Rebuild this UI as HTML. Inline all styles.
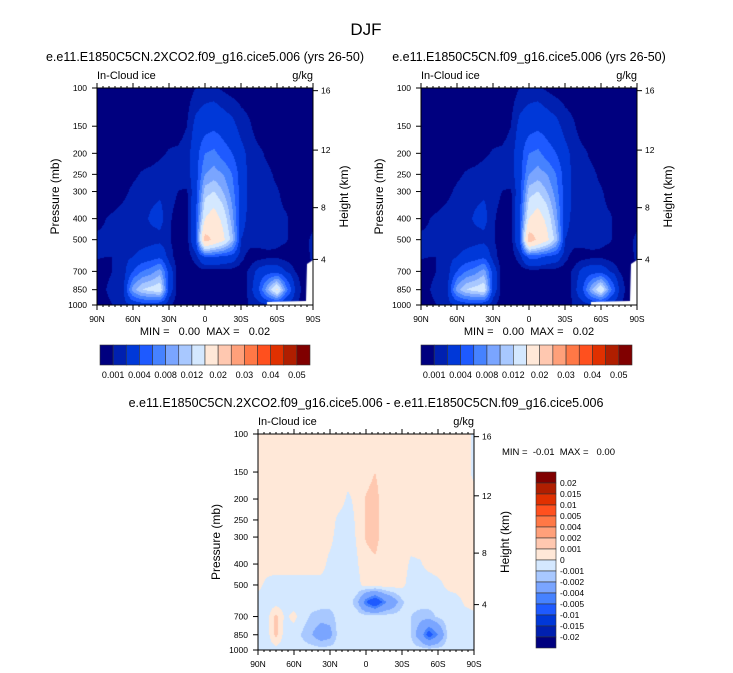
<!DOCTYPE html>
<html><head><meta charset="utf-8">
<style>
body{margin:0;background:#fff;}
#root{position:relative;width:733px;height:673px;overflow:hidden;font-family:"Liberation Sans",sans-serif;color:#000;}
canvas{position:absolute;}
svg{position:absolute;left:0;top:0;}
</style></head>
<body>
<div id="root">
<canvas id="c1" width="216" height="217" style="left:97px;top:88px"></canvas>
<canvas id="c2" width="216" height="217" style="left:421px;top:88px"></canvas>
<canvas id="c3" width="216" height="216" style="left:258px;top:434px"></canvas>
<svg id="ov" width="733" height="673"></svg>
</div>
<script>
const lats=[90,82.5,75,67.5,60,52.5,45,37.5,30,22.5,15,7.5,0,-7.5,-15,-22.5,-30,-37.5,-45,-52.5,-60,-67.5,-75,-82.5,-90];
const levels=[100,150,200,250,300,400,500,600,700,850,1000];
const iceA=[
[.5,.5,.5,.5,.5,.5,.5,.5,.5,.5,.5,1,1.3,1.2,.8,.5,.5,.5,.5,.5,.5,.5,.5,.5,.5],
[.5,.5,.5,.5,.5,.5,.5,.5,.5,.5,1,2.5,3,3.5,3,2.5,1.5,1.1,.5,.5,.5,.5,.5,.5,.5],
[.5,.5,.5,.5,.5,.5,.5,.8,1.1,1.2,1.5,3,6,6.5,5,4,2.5,1.5,1.2,.8,.5,.5,.5,.5,.5],
[.5,.5,.5,.5,.8,1.1,1.3,1.5,1.5,1.2,1.5,3,8,9,8,6,3,1.5,1.3,1.2,.8,.5,.5,.5,.5],
[.5,.5,.5,.8,1.2,1.4,1.6,1.8,1.5,1,.9,3,11,12,10,7,3,1.6,1.4,1.3,1.1,.7,.5,.5,.5],
[.7,1,1.2,1.4,1.5,1.6,2.2,2.5,1.2,.5,.5,4,15,17,14,9,2.5,1.6,1.4,1.3,1.2,1.1,.7,.5,.5],
[1.2,1.2,1.3,1.4,1.4,1.4,1.5,1.6,1.1,.5,.5,4,22,19,16,11,2,1.5,1.4,1.3,1.2,1.1,.6,.6,1.3],
[1.1,1,1,1.5,2,2.5,3,3.5,1.5,.5,.5,1.5,4,4,3.5,3,1.3,.5,.6,.8,.8,.6,.5,.5,1.3],
[.5,.5,1.2,1.5,4,6,7,9,3,.5,.5,.5,.5,.5,.5,.5,.5,1.2,2.5,3,3,2,1,.5,.5],
[.5,1,2,2,9,12,13,14,3,.5,.5,.5,.5,.5,.5,.5,.5,1.3,4,10,16,7,2,.5,.5],
[.5,.5,1.2,1.5,2,2.5,2.5,2,1.2,.5,.5,.5,.5,.5,.5,.5,.5,1.1,1.3,1.5,1.5,1.2,1.1,.5,.5]];
const iceB=[
[.5,.5,.5,.5,.5,.5,.5,.5,.5,.5,.5,1,1.3,1.2,.8,.5,.5,.5,.5,.5,.5,.5,.5,.5,.5],
[.5,.5,.5,.5,.5,.5,.5,.5,.5,.5,1,2.5,3,3.5,3,2.5,1.5,1.1,.5,.5,.5,.5,.5,.5,.5],
[.5,.5,.5,.5,.5,.5,.5,.8,1.1,1.2,1.5,3,6,6.5,5,4,2.5,1.5,1.2,.8,.5,.5,.5,.5,.5],
[.5,.5,.5,.5,.8,1.1,1.3,1.5,1.5,1.2,1.5,3,8,9,8,6,3,1.5,1.3,1.2,.8,.5,.5,.5,.5],
[.5,.5,.5,.8,1.2,1.4,1.6,1.8,1.5,1,.9,3,11,12,10,7,3,1.6,1.4,1.3,1.1,.7,.5,.5,.5],
[.7,1,1.2,1.4,1.5,1.6,2.2,2.5,1.2,.5,.5,4,15,17,14,9,2.5,1.6,1.4,1.3,1.2,1.1,.7,.5,.5],
[1.2,1.2,1.3,1.4,1.4,1.4,1.5,1.6,1.1,.5,.5,4,23,19,16,11,2,1.5,1.4,1.3,1.2,1.1,.6,.6,1.3],
[1.1,1,1,1.5,2,2.5,3,3.5,1.5,.5,.5,1.5,4.5,4.5,3.5,3,1.3,.5,.6,.8,.8,.6,.5,.5,1.3],
[.5,.5,1.2,1.5,4,6,7,9,3,.5,.5,.5,.5,.5,.5,.5,.5,1.2,2.5,3,3,2,1,.5,.5],
[.5,1,2,2,9,12,13,14,3,.5,.5,.5,.5,.5,.5,.5,.5,1.3,4,10,15,7,2,.5,.5],
[.5,.5,1.2,1.5,2,2.5,2.5,2,1.2,.5,.5,.5,.5,.5,.5,.5,.5,1.1,1.3,1.5,1.5,1.2,1.1,.5,.5]];
const iceDiff=[
[.5,.5,.5,.5,.5,.5,.5,.5,.5,.5,.5,.5,.5,.5,.5,.5,.5,.5,.5,.5,.5,.5,.5,.5,-.3],
[.5,.5,.5,.5,.5,.5,.5,.5,.5,.5,.5,.5,.6,1.0,.5,.5,.5,.5,.5,.5,.5,.5,.5,.5,-.3],
[.5,.5,.5,.5,.5,.5,.5,.5,.5,.5,-.2,.3,1.1,1.4,.5,.5,.5,.5,.5,.5,.5,.5,.5,.5,.5],
[.5,.5,.5,.5,.5,.5,.5,.5,.5,-.3,-.5,.2,1.1,1.4,.5,.5,.5,.5,.5,.5,.5,.5,.5,.5,.5],
[.5,.5,.5,.5,.5,.5,.5,.5,.3,-.5,-.5,.1,1.1,1.4,.5,.5,.5,.5,.5,.5,.5,.5,.5,.5,.5],
[.5,.5,.5,.5,.5,.5,.5,.4,-.3,-.5,-.5,-.1,.6,.8,.5,.5,.5,-.2,-.1,.3,.5,.5,.5,.5,.5],
[.3,-.3,-.5,-.5,-.5,-.5,-.5,-.4,-.5,-.5,-.5,-.3,.4,.5,.5,.5,.3,-.5,-.5,-.5,-.3,.2,.5,.5,.5],
[-.5,-.5,-.5,-.5,-.5,-.5,-.5,-.5,-.5,-.5,-.5,-1.5,-5,-7,-4.5,-3,-1.2,-.5,-.5,-.5,-.5,-.5,-.5,.2,.5],
[-.5,-.4,1.3,-.2,.3,-.5,-1.2,-1.5,-1.5,-.5,-.5,-.5,-.5,-.5,-.5,-.5,-.5,-1,-1.5,-1.5,-.8,-.5,-.5,-.5,-.3],
[-.5,-.5,1.3,-.5,-.5,-1.2,-2,-3,-2.5,-.5,-.5,-.5,-.5,-.5,-.5,-.5,-.5,-1,-3,-6,-4,-1,-.5,-.3,-.5],
[-.5,-.5,-.5,-.5,-.5,-.5,-.5,-.5,-.5,-.5,-.5,-.5,-.5,-.5,-.5,-.5,-.5,-.5,-.5,-.5,-.5,-.5,-.5,-.5,-.5]];
const absLevels=[1,2,4,6,8,10,12,15,20,25,30,35,40,45,50];
const absLabels=["0.001","0.004","0.008","0.012","0.02","0.03","0.04","0.05"];
const diffLevels=[-20,-15,-10,-5,-4,-2,-1,0,1,2,4,5,10,15,20];
const diffLabels=["-0.02","-0.015","-0.01","-0.005","-0.004","-0.002","-0.001","0","0.001","0.002","0.004","0.005","0.01","0.015","0.02"];
const pTicks=[100,150,200,250,300,400,500,700,850,1000];
const hTicks=[16,12,8,4];
const xLabels=["90N","60N","30N","0","30S","60S","90S"];
const colors=["#00007F","#0020B0","#0038D8","#1E5AFF","#4682FF","#7AA5FF","#A8C8FF","#D4E8FF","#FFE8D8","#FFC8B0","#FFA07A","#FF7846","#FF501E","#E03000","#B01E00","#800000"];

function levelIndex(v,lv){let i=0;while(i<lv.length&&v>=lv[i])i++;return i;}
function hex(c){return [parseInt(c.substr(1,2),16),parseInt(c.substr(3,2),16),parseInt(c.substr(5,2),16)];}
const rgb=colors.map(hex);
function yOfP(p,top,h){return top+h*(1-Math.log10(1000/p));}
function pOfH(km){const m=km*1000;if(m<=11000)return 1013.25*Math.pow(1-2.2558e-5*m,5.2559);return 226.3*Math.exp(-(m-11000)/6341.6);}
function drawField(id,data,lv,w,h){
  const cv=document.getElementById(id),ctx=cv.getContext('2d');
  const img=ctx.createImageData(w,h);
  const lp=levels.map(p=>Math.log10(1000/p));
  for(let py=0;py<h;py++){
    const L=1-(py+0.5)/h;
    let j=0;while(j<lp.length-2&&L<lp[j+1])j++;
    const ty=Math.max(0,Math.min(1,(lp[j]-L)/(lp[j]-lp[j+1])));
    for(let px=0;px<w;px++){
      const fx=(px+0.5)/w*(lats.length-1);
      const i=Math.min(Math.floor(fx),lats.length-2),tx=fx-i;
      const v=(data[j][i]*(1-tx)+data[j][i+1]*tx)*(1-ty)+(data[j+1][i]*(1-tx)+data[j+1][i+1]*tx)*ty;
      const c=rgb[levelIndex(v,lv)];
      const k=(py*w+px)*4;img.data[k]=c[0];img.data[k+1]=c[1];img.data[k+2]=c[2];img.data[k+3]=255;
    }
  }
  ctx.putImageData(img,0,0);
}
drawField('c1',iceA,absLevels,216,217);
drawField('c2',iceB,absLevels,216,217);
drawField('c3',iceDiff,diffLevels,216,216);
[document.getElementById('c1'),document.getElementById('c2')].forEach(cv=>{const x=cv.getContext('2d');x.fillStyle='#fff';x.beginPath();x.moveTo(170,217);x.lineTo(170,214);x.lineTo(209,213);x.lineTo(210,176);x.lineTo(216,172);x.lineTo(216,217);x.fill();});

const NS='http://www.w3.org/2000/svg';
const ov=document.getElementById('ov');
function el(tag,attrs,parent){const e=document.createElementNS(NS,tag);for(const k in attrs)e.setAttribute(k,attrs[k]);(parent||ov).appendChild(e);return e;}
function txt(x,y,s,size,anchor,parent,name,rot){const e=el('text',{x:x,y:y,'font-size':size,'text-anchor':anchor||'start','font-family':'Liberation Sans, sans-serif'},parent);e.setAttribute('xml:space','preserve');e.style.whiteSpace='pre';if(rot)e.setAttribute('transform',`rotate(-90 ${x} ${y})`);e.textContent=s;


return e;}
function panel(L,T,W,H,title,titleX){
  const g=el('g',{});
  
  
  el('rect',{x:L,y:T,width:W,height:H,fill:'none',stroke:'#000','stroke-width':1},g);
  txt(titleX,T-27,title,12.5,'middle',g,'panel-title');
  txt(L,T-9,'In-Cloud ice',11,'start',g,'field-label');
  txt(L+W,T-9,'g/kg',11,'end',g,'units-label');
  pTicks.forEach(p=>{const y=yOfP(p,T,H);el('line',{x1:L-5,y1:y,x2:L,y2:y,stroke:'#000'},g);txt(L-10,y+3,String(p),8.5,'end',g,'pressure-tick-label');});
  hTicks.forEach(hk=>{const y=yOfP(pOfH(hk),T,H);el('line',{x1:L+W,y1:y,x2:L+W+5,y2:y,stroke:'#000'},g);txt(L+W+8,y+3,String(hk),8.5,'start',g,'height-tick-label');});
  xLabels.forEach((s,i)=>{const x=L+W*i/6;el('line',{x1:x,y1:T+H,x2:x,y2:T+H+5,stroke:'#000'},g);el('line',{x1:x,y1:T,x2:x,y2:T-5,stroke:'#000'},g);txt(x,T+H+17,s,8.5,'middle',g,'lat-tick-label');});
  for(let k=0;k<=36;k++){const x=L+W*k/36;el('line',{x1:x,y1:T+H,x2:x,y2:T+H+2,stroke:'#000'},g);el('line',{x1:x,y1:T,x2:x,y2:T-2,stroke:'#000'},g);}
  txt(L-38,T+H/2,'Pressure (mb)',12,'middle',g,'y-axis-title',true);
  txt(L+W+35,T+H/2,'Height (km)',12,'middle',g,'y2-axis-title',true);
}
txt(366,35,'DJF',17,'middle',null,'figure-title');
panel(97,88,216,217,'e.e11.E1850C5CN.2XCO2.f09_g16.cice5.006 (yrs 26-50)',205);
panel(421,88,216,217,'e.e11.E1850C5CN.f09_g16.cice5.006 (yrs 26-50)',529);
panel(258,434,216,216,'e.e11.E1850C5CN.2XCO2.f09_g16.cice5.006 - e.e11.E1850C5CN.f09_g16.cice5.006',366);
txt(205,335,'MIN =   0.00  MAX =   0.02',11,'middle',null,'min-max-label');
txt(529,335,'MIN =   0.00  MAX =   0.02',11,'middle',null,'min-max-label');
txt(502,455,'MIN =  -0.01  MAX =   0.00',9.5,'start',null,'min-max-label');
function hbar(x0,y0,w,h){
  const bw=w/16;
  colors.forEach((c,i)=>{const r=el('rect',{x:x0+i*bw,y:y0,width:bw,height:h,fill:c,stroke:'#333','stroke-width':0.6});
  
  });
  absLabels.forEach((s,k)=>txt(x0+(2*k+1)*bw,y0+h+13,s,9,'middle',null,'colorbar-label'));
}
hbar(100,345,210,20);
hbar(421,345,211,20);
(function(){const x0=536,y0=472,w=20,h=176,bh=h/16;
 for(let i=0;i<16;i++){const r=el('rect',{x:x0,y:y0+i*bh,width:w,height:bh,fill:colors[15-i],stroke:'#333','stroke-width':0.6});
 
 }
 diffLabels.slice().reverse().forEach((s,k)=>txt(x0+w+4,y0+(k+1)*bh+3,s,8.5,'start',null,'colorbar-label'));
})();
</script>
</body></html>
